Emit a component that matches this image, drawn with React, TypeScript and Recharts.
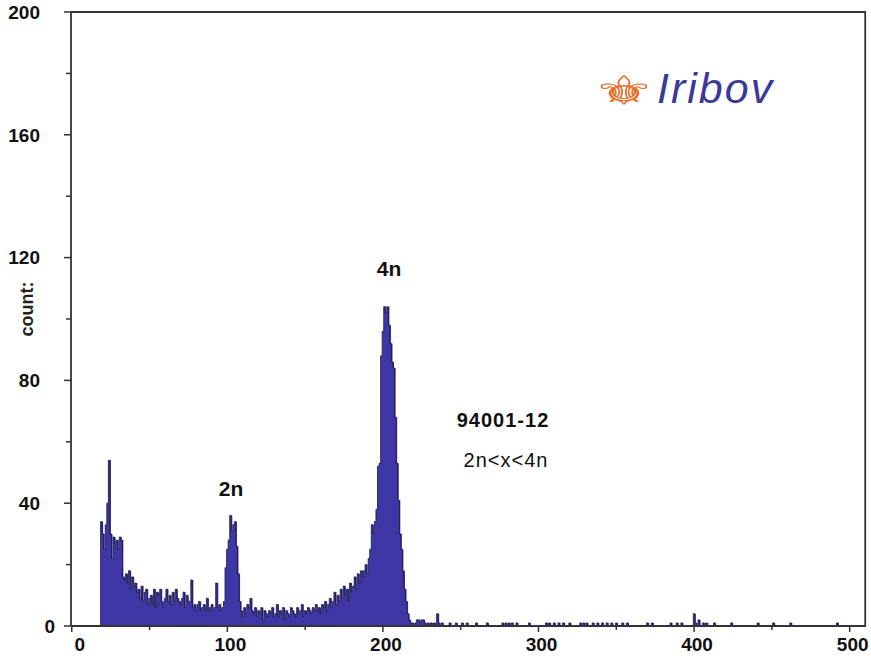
import React from "react";
import { ComposedChart, Bar, Line, XAxis, YAxis, ReferenceLine } from "recharts";

// histogram: counts per channel, channels 19..224
const FIRST_CHANNEL = 19;
const mainCounts: number[] = [
  // 19-40
  34, 30, 25, 33, 40, 54, 30, 22, 29, 27, 28, 25, 29, 28, 16, 15, 17, 14, 18, 12, 16, 13,
  // 41-60
  14, 11, 12, 9, 13, 8, 11, 12, 7, 9, 10, 7, 12, 6, 11, 10, 12, 8, 6, 9,
  // 61-80
  12, 8, 10, 7, 11, 8, 12, 9, 8, 7, 9, 11, 6, 10, 8, 8, 15, 6, 7, 5,
  // 81-100
  7, 8, 5, 6, 7, 5, 9, 5, 6, 7, 5, 6, 14, 6, 7, 5, 6, 8, 19, 25,
  // 101-120
  28, 36, 31, 33, 34, 26, 17, 8, 5, 3, 6, 4, 7, 6, 9, 5, 4, 6, 3, 5,
  // 121-140
  4, 6, 2, 5, 4, 3, 5, 4, 6, 3, 4, 7, 3, 5, 4, 6, 2, 5, 4, 3,
  // 141-160
  6, 5, 4, 3, 6, 4, 5, 7, 3, 5, 4, 6, 5, 4, 6, 5, 7, 5, 6, 4,
  // 161-180
  7, 6, 8, 5, 7, 9, 6, 8, 11, 7, 10, 8, 12, 9, 13, 10, 12, 8, 14, 11,
  // 181-200
  13, 16, 12, 17, 14, 18, 16, 18, 20, 17, 22, 25, 33, 30, 34, 38, 52, 53, 88, 96,
  // 201-224
  104, 102, 104, 98, 92, 86, 84, 68, 53, 41, 30, 25, 18, 12, 8, 4, 2, 1, 1, 0, 1, 2, 2, 1,
];

// sparse tail: [channel, count]
const tailCounts: [number, number][] = [
  [225, 2], [226, 2], [227, 1], [229, 1], [231, 1], [233, 1], [235, 4], [236, 1], [238, 1],
  [243, 1], [247, 1], [251, 1], [254, 1], [260, 1], [267, 1], [277, 1], [279, 1], [281, 1],
  [283, 1], [286, 1], [294, 1], [305, 1], [307, 1], [310, 1], [313, 1], [316, 1], [320, 1],
  [327, 1], [329, 1], [331, 1], [335, 1], [338, 1], [341, 1], [344, 1], [347, 1], [350, 1],
  [354, 1], [357, 1], [370, 1], [373, 1], [385, 1], [389, 1], [392, 1], [400, 4], [401, 1],
  [403, 2], [406, 1], [408, 1], [413, 1], [424, 1], [441, 1], [451, 1], [462, 1], [492, 1],
];

const CHANNEL_COUNT = 511;
const LAST_CHANNEL = CHANNEL_COUNT - 1;
const Y_MAX = 200;
const xTicks = [0, 50, 100, 150, 200, 250, 300, 350, 400, 450, 500];
const yTicks = [0, 20, 40, 60, 80, 100, 120, 140, 160, 180, 200];

const data = (() => {
  const arr: { ch: number; count: number }[] = [];
  for (let c = 0; c < CHANNEL_COUNT; c++) arr.push({ ch: c, count: 0 });
  mainCounts.forEach((v, i) => {
    arr[FIRST_CHANNEL + i].count = v;
  });
  tailCounts.forEach(([c, v]) => {
    arr[c].count = v;
  });
  return arr;
})();

const FONT = "'Liberation Sans', Arial, Helvetica, sans-serif";
const AXIS = "#333";
const FILL = "#3f37a5";

const YTick = (props: any) => {
  const { x, y, payload } = props;
  const v = payload.value as number;
  const major = v % 40 === 0;
  return (
    <g>
      <line x1={x - (major ? 7 : 5)} x2={x} y1={y} y2={y} stroke={AXIS} strokeWidth={1.5} />
      {major && (
        <text
          x={v === 0 ? x - 16 : x - 31}
          y={y}
          dy="0.36em"
          textAnchor="end"
          fontFamily={FONT}
          fontWeight="bold"
          fontSize={19}
          fill="#111"
        >
          {v}
        </text>
      )}
    </g>
  );
};

const XTick = (props: any) => {
  const { x, y, payload } = props;
  const v = payload.value as number;
  const major = v % 100 === 0;
  return (
    <g>
      <line x1={x} x2={x} y1={y} y2={y + (major ? 6 : 4)} stroke={AXIS} strokeWidth={1.5} />
      {major && (
        <text
          x={v === 0 ? x + 8 : x + 3}
          y={y + 25}
          textAnchor="middle"
          fontFamily={FONT}
          fontWeight="bold"
          fontSize={19}
          fill="#111"
        >
          {v}
        </text>
      )}
    </g>
  );
};

const YLabel = (props: any) => {
  const vb = props.viewBox || {};
  const cx = 27;
  const cy = (vb.y ?? 12) + (vb.height ?? 614) / 2 - 10;
  return (
    <text
      x={cx}
      y={cy}
      transform={`rotate(-90 ${cx} ${cy})`}
      textAnchor="middle"
      dy="0.36em"
      fontFamily={FONT}
      fontWeight="bold"
      fontSize={18}
      fill="#222"
    >
      count:
    </text>
  );
};

const BarShape = (props: any) => {
  const { x, y, width, height } = props;
  if (!height || height <= 0) return null;
  return <rect x={x} y={y} width={width + 0.6} height={height} fill={FILL} />;
};

export default function App() {
  return (
    <div style={{ position: "absolute", left: 0, top: 0, width: 871, height: 665, background: "#fff" }}>
      <ComposedChart
        width={871}
        height={665}
        data={data}
        margin={{ top: 12, right: 5, left: 0, bottom: 0 }}
        barCategoryGap={0}
        barGap={0}
      >
        <XAxis
          dataKey="ch"
          type="category"
          ticks={xTicks}
          interval={0}
          height={39}
          tickSize={0}
          tickMargin={0}
          tickLine={false}
          tick={<XTick />}
          axisLine={{ stroke: AXIS, strokeWidth: 1.8 }}
        />
        <YAxis
          domain={[0, Y_MAX]}
          ticks={yTicks}
          interval={0}
          width={71}
          tickSize={0}
          tickMargin={0}
          tickLine={false}
          tick={<YTick />}
          axisLine={{ stroke: AXIS, strokeWidth: 1.8 }}
          label={<YLabel />}
        />
        <ReferenceLine y={Y_MAX} stroke={AXIS} strokeWidth={1.8} ifOverflow="visible" />
        <ReferenceLine x={LAST_CHANNEL} stroke={AXIS} strokeWidth={1.8} ifOverflow="visible" />
        <Bar dataKey="count" isAnimationActive={false} shape={<BarShape />} />
        <Line
          dataKey="count"
          type="step"
          stroke="#1c1a3c"
          strokeWidth={0.8}
          dot={false}
          activeDot={false}
          isAnimationActive={false}
        />
      </ComposedChart>
      <svg
        width={871}
        height={665}
        style={{ position: "absolute", left: 0, top: 0, pointerEvents: "none" }}
      >
        <text x={231} y={488} dy="0.36em" textAnchor="middle" fontFamily={FONT} fontWeight="bold" fontSize={21} fill="#111">
          2n
        </text>
        <text x={389} y={268} dy="0.36em" textAnchor="middle" fontFamily={FONT} fontWeight="bold" fontSize={21} fill="#111">
          4n
        </text>
        <text x={503} y={420} dy="0.36em" textAnchor="middle" fontFamily={FONT} fontWeight="bold" fontSize={20} fill="#111" letterSpacing={1}>
          94001-12
        </text>
        <text x={506} y={460} dy="0.36em" textAnchor="middle" fontFamily={FONT} fontSize={20} fill="#111" letterSpacing={1}>
          2n&lt;x&lt;4n
        </text>
        <text
          x={624}
          y={104}
          textAnchor="middle"
          fontFamily="'DejaVu Sans', sans-serif"
          fontSize={54}
          fill="none"
          stroke="#e8702a"
          strokeWidth={1.4}
          transform="translate(624 104) scale(1.3 0.72) translate(-624 -104)"
        >
          ⚜
        </text>
        <text x={657} y={103} fontFamily={FONT} fontStyle="italic" fontSize={43} fill="#3c3896" letterSpacing={2}>
          Iribov
        </text>
      </svg>
    </div>
  );
}
